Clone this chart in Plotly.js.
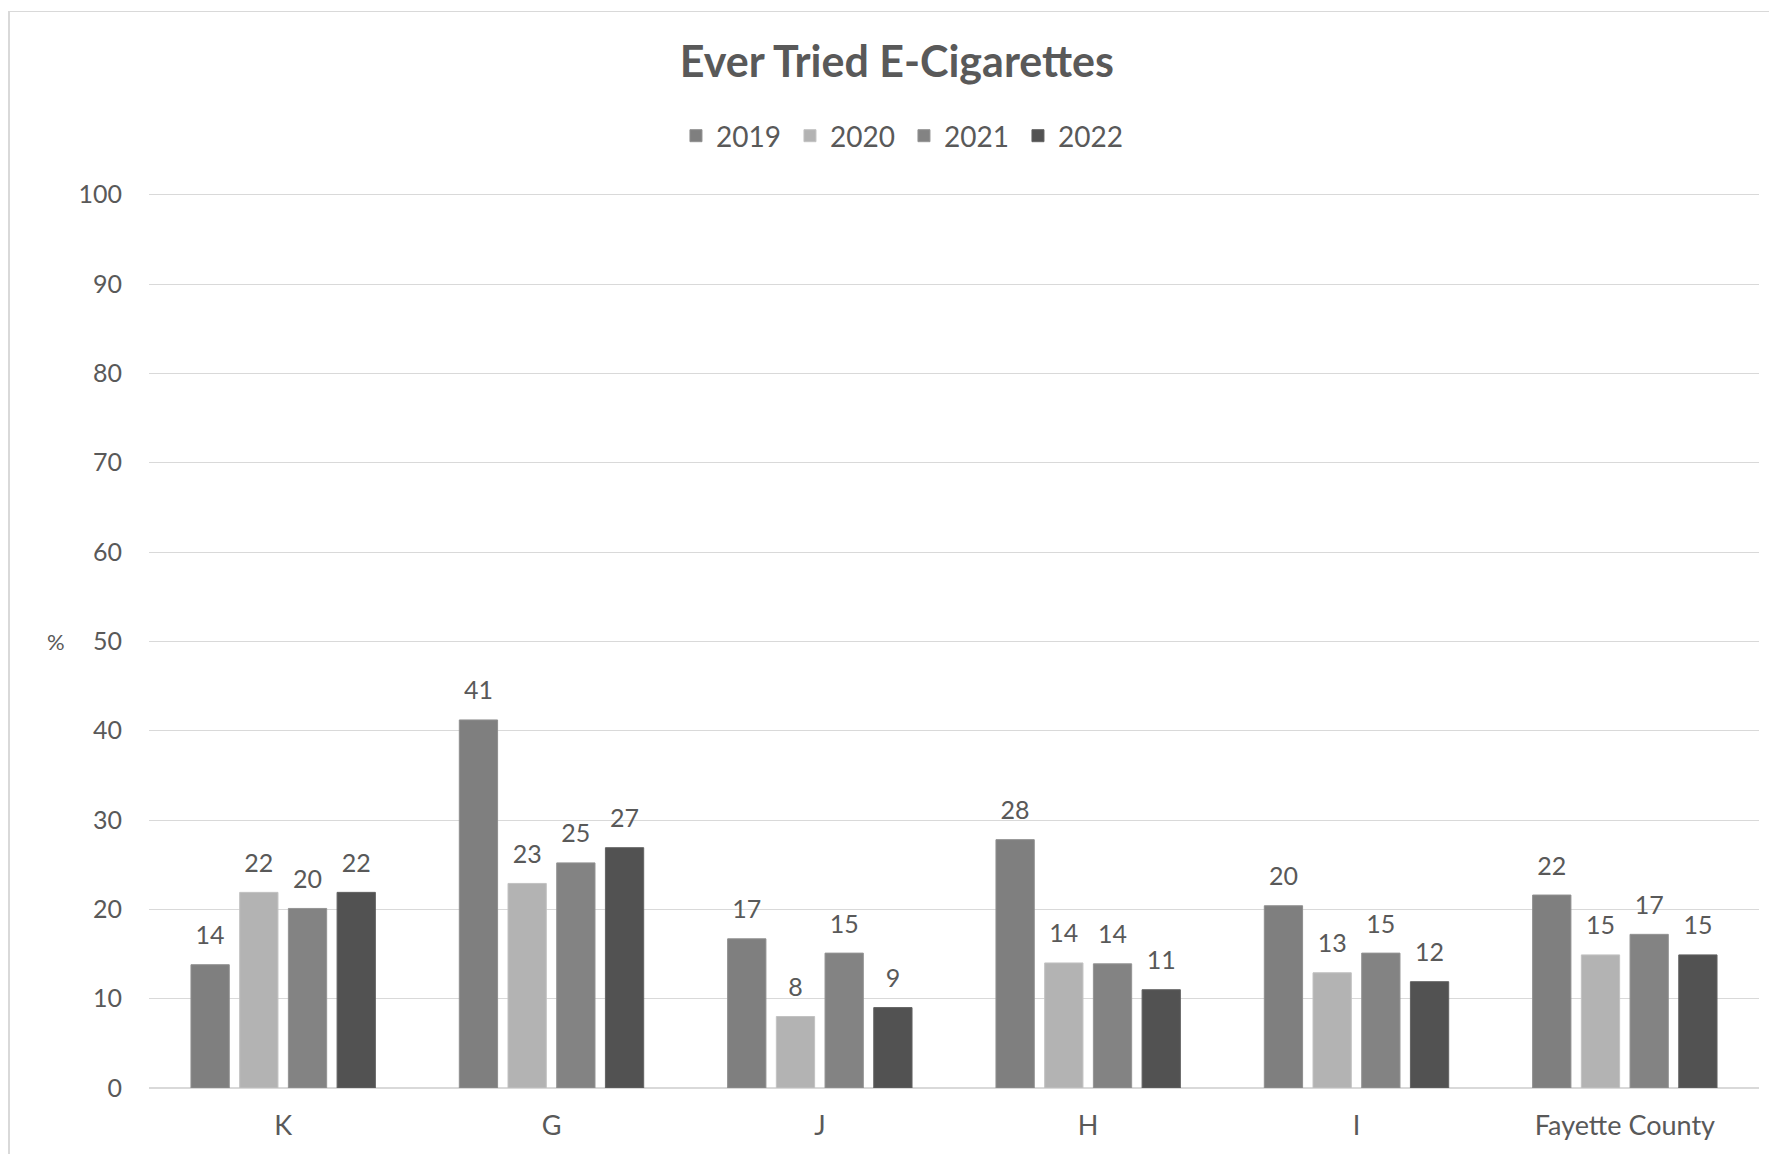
<!DOCTYPE html>
<html>
<head>
<meta charset="utf-8">
<script src="https://cdn.plot.ly/plotly-3.0.1.min.js"></script>
<style>
  html, body { margin: 0; padding: 0; background: #ffffff; }
  #wrap { position: relative; width: 1769px; height: 1154px; overflow: hidden; }
  #chart { position: absolute; left: 0; top: 0; width: 1769px; height: 1154px; }
  #frame { position: absolute; left: 8px; top: 11px; width: 1800px; height: 1200px;
           border-left: 2px solid #d9d9d9; border-top: 1px solid #d9d9d9; pointer-events: none; }
</style>
</head>
<body>
<div id="wrap">
  <div id="chart"></div>
  <div id="frame"></div>
</div>
<script>
const categories = ["K", "G", "J", "H", "I", "Fayette County"];
const seriesNames = ["2019", "2020", "2021", "2022"];
const v2019 = [13.8, 41.2, 16.7, 27.8, 20.4, 21.6];
const v2020 = [21.9, 22.9, 8.0, 14.0, 12.9, 14.9];
const v2021 = [20.1, 25.2, 15.1, 13.9, 15.1, 17.2];
const v2022 = [21.9, 26.9, 9.0, 11.0, 11.9, 14.9];
const yTicks = [0, 10, 20, 30, 40, 50, 60, 70, 80, 90, 100];

const seriesValues = [v2019, v2020, v2021, v2022];
const colors = ["#7f7f7f", "#b3b3b3", "#838383", "#525252"];
const edge = ["#8f8f8f", "#c2c2c2", "#939393", "#626262"];
const labelPad = 1.4;
const txt = "#595959";
const fontFam = "Lato, 'Open Sans', sans-serif";

const traces = [];
seriesValues.forEach((vals, i) => {
  traces.push({
    type: "bar",
    name: seriesNames[i],
    x: categories,
    y: vals,
    offsetgroup: "g" + i,
    marker: { color: colors[i], line: { color: edge[i], width: 1 } },
    hoverinfo: "skip"
  });
});
seriesValues.forEach((vals, i) => {
  traces.push({
    type: "bar",
    name: seriesNames[i] + " labels",
    x: categories,
    y: vals.map(() => labelPad),
    base: vals,
    offsetgroup: "g" + i,
    showlegend: false,
    marker: { color: "rgba(0,0,0,0)", line: { width: 0 } },
    text: vals.map(v => String(Math.round(v))),
    textposition: "outside",
    constraintext: "none",
    cliponaxis: false,
    textfont: { family: fontFam, size: 25, color: txt },
    hoverinfo: "skip"
  });
});

const layout = {
  width: 1769,
  height: 1154,
  paper_bgcolor: "rgba(0,0,0,0)",
  plot_bgcolor: "rgba(0,0,0,0)",
  font: { family: fontFam, color: txt },
  margin: { l: 149, r: 10, t: 192, b: 66 },
  barmode: "group",
  bargap: 0.274,
  bargroupgap: 0.214,
  title: {
    text: "<b>Ever Tried E-Cigarettes</b>",
    font: { family: fontFam, size: 43, color: txt },
    x: 0.507, xref: "container", xanchor: "center",
    y: 1 - 62 / 1154, yref: "container", yanchor: "middle"
  },
  showlegend: true,
  legend: {
    orientation: "h",
    x: 0.511, xref: "container", xanchor: "center",
    y: 1 - 136 / 1154, yref: "container", yanchor: "middle",
    font: { family: fontFam, size: 28, color: txt },
    traceorder: "normal",
    itemwidth: 30,
    entrywidth: 69
  },
  xaxis: {
    type: "category",
    categoryorder: "array",
    categoryarray: categories,
    showgrid: false,
    zeroline: false,
    showline: false,
    ticks: "",
    ticklabelstandoff: 19,
    tickfont: { family: fontFam, size: 27, color: txt },
    fixedrange: true
  },
  yaxis: {
    range: [0, 100.3],
    tickmode: "array",
    tickvals: yTicks,
    ticktext: yTicks.map(String),
    showgrid: true,
    gridcolor: "#d9d9d9",
    gridwidth: 1,
    zeroline: true,
    zerolinecolor: "#d9d9d9",
    zerolinewidth: 2,
    showline: false,
    ticks: "",
    ticklabelstandoff: 26,
    tickfont: { family: fontFam, size: 25, color: txt },
    fixedrange: true
  },
  annotations: [{
    text: "%",
    xref: "paper", yref: "y",
    x: -0.058, y: 50,
    xanchor: "center", yanchor: "middle",
    showarrow: false,
    font: { family: fontFam, size: 22, color: txt }
  }]
};

Plotly.newPlot("chart", traces, layout, { displayModeBar: false, staticPlot: true });
</script>
</body>
</html>
